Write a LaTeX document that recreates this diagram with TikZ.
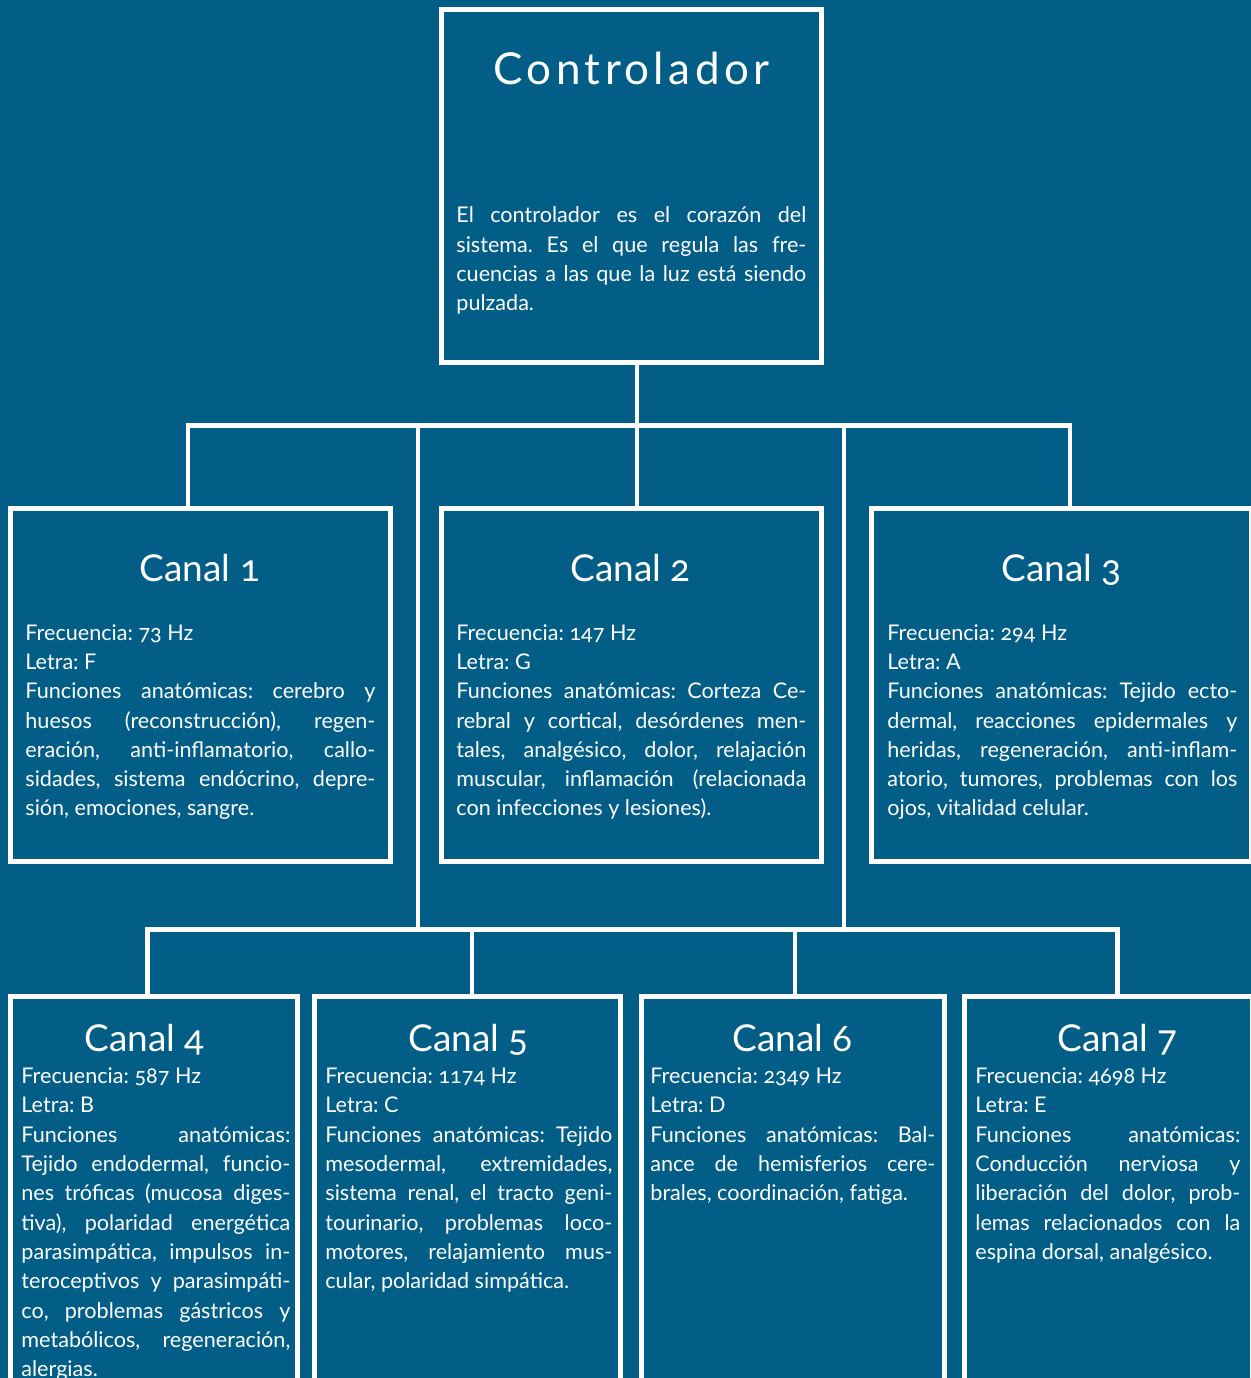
\documentclass[tikz,border=0pt]{standalone}
\usepackage{fontspec}
\setmainfont{Lato}[Numbers=OldStyle]
\newfontfamily\bigfont{Lato}[Numbers=OldStyle,LetterSpace=10]
\definecolor{bgblue}{RGB}{2,94,135}
\newlength{\colw}
\newcommand{\jl}[1]{\makebox[\colw][s]{#1}}
\frenchspacing

\tikzset{
  box/.style={draw=white, line width=2.5pt, fill=bgblue, inner sep=0pt},
  link/.style={draw=white, line width=2.2pt},
  ttl/.style={text=white, anchor=base, inner sep=0pt,
    font=\fontsize{18.5}{22}\selectfont},
  body/.style={text=white, align=left, anchor=north west, inner sep=0pt,
    font=\fontsize{10.8}{14.65}\selectfont,
    execute at begin node={\global\colw=#1\relax\rule{0pt}{8pt}}},
}

\begin{document}
\begin{tikzpicture}[x=0.5pt,y=-0.5pt]
  \useasboundingbox (0,0) rectangle (1251,1378);
  \fill[bgblue] (0,0) rectangle (1251,1378);
  % boxes
  \foreach \n/\x/\y/\w/\h in {
    ctrl/631/186/190/176.5,
    c1/200.25/684.75/190.25/176.25, c2/631/684.75/190/176.25,
    c3/1061.5/684.75/190/176.25,
    c4/153.75/1213.25/143.75/216.75, c5/467.25/1213.25/152.75/216.75,
    c6/793/1213.25/151.5/216.75, c7/1108.5/1213.25/144/216.75} {
    \node[box, minimum width=\w pt, minimum height=\h pt] (\n) at (\x,\y) {};
  }
  % titles
  \node[ttl, font=\bigfont\fontsize{22}{26}\selectfont] (t0) at (631.5,84.5) {Controlador};
  \foreach \n/\x/\y/\t in {
    t1/200/581.5/Canal 1, t2/630.5/581.5/Canal 2, t3/1061.5/581.5/Canal 3,
    t4/144.5/1051/Canal 4, t5/468.5/1051/Canal 5,
    t6/792.5/1051/Canal 6, t7/1117.5/1051/Canal 7} {
    \node[ttl] (\n) at (\x,\y) {\t};
  }
  % texts
  \node[body=175pt] (b0) at (456,206.5) {%
    \jl{El controlador es el corazón del}\\
    \jl{sistema. Es el que regula las fre-}\\
    \jl{cuencias a las que la luz está siendo}\\
    pulzada.};
  \node[body=175pt] (b1) at (25,624) {%
    Frecuencia: 73 Hz\\
    Letra: F\\
    \jl{Funciones anatómicas: cerebro y}\\
    \jl{huesos (reconstrucción), regen-}\\
    \jl{eración, anti-inflamatorio, callo-}\\
    \jl{sidades, sistema endócrino, depre-}\\
    sión, emociones, sangre.};
  \node[body=175pt] (b2) at (456,624) {%
    Frecuencia: 147 Hz\\
    Letra: G\\
    \jl{Funciones anatómicas: Corteza Ce-}\\
    \jl{rebral y cortical, desórdenes men-}\\
    \jl{tales, analgésico, dolor, relajación}\\
    \jl{muscular, inflamación (relacionada}\\
    con infecciones y lesiones).};
  \node[body=175pt] (b3) at (887,624) {%
    Frecuencia: 294 Hz\\
    Letra: A\\
    \jl{Funciones anatómicas: Tejido ecto-}\\
    \jl{dermal, reacciones epidermales y}\\
    \jl{heridas, regeneración, anti-inflam-}\\
    \jl{atorio, tumores, problemas con los}\\
    ojos, vitalidad celular.};
  \node[body=134.5pt] (b4) at (21,1067.5) {%
    Frecuencia: 587 Hz\\
    Letra: B\\
    \jl{Funciones anatómicas:}\\
    \jl{Tejido endodermal, funcio-}\\
    \jl{nes tróficas (mucosa diges-}\\
    \jl{tiva), polaridad energética}\\
    \jl{parasimpática, impulsos in-}\\
    \jl{teroceptivos y parasimpáti-}\\
    \jl{co, problemas gástricos y}\\
    \jl{metabólicos, regeneración,}\\
    alergias.};
  \node[body=143.5pt] (b5) at (325,1067.5) {%
    Frecuencia: 1174 Hz\\
    Letra: C\\
    \jl{Funciones anatómicas: Tejido}\\
    \jl{mesodermal, extremidades,}\\
    \jl{sistema renal, el tracto geni-}\\
    \jl{tourinario, problemas loco-}\\
    \jl{motores, relajamiento mus-}\\
    cular, polaridad simpática.};
  \node[body=142.5pt] (b6) at (650,1067.5) {%
    Frecuencia: 2349 Hz\\
    Letra: D\\
    \jl{Funciones anatómicas: Bal-}\\
    \jl{ance de hemisferios cere-}\\
    brales, coordinación, fatiga.};
  \node[body=132.5pt] (b7) at (975,1067.5) {%
    Frecuencia: 4698 Hz\\
    Letra: E\\
    \jl{Funciones anatómicas:}\\
    \jl{Conducción nerviosa y}\\
    \jl{liberación del dolor, prob-}\\
    \jl{lemas relacionados con la}\\
    espina dorsal, analgésico.};
  % connectors
  \coordinate (bus) at (637,425.5);
  \coordinate (j1) at (188,425.5);
  \coordinate (j3) at (1070,425.5);
  \coordinate (s1) at (418,425.5);
  \coordinate (s2) at (844,425.5);
  \coordinate (k1) at (147.5,929.5);
  \coordinate (k2) at (472,929.5);
  \coordinate (k3) at (795,929.5);
  \coordinate (k4) at (1117.5,929.5);
  \draw[link] (ctrl.south -| bus) -- (bus) -- (bus |- c2.north);
  \draw[link] (j1 |- c1.north) -- (j1) -- (j3) -- (j3 |- c3.north);
  \draw[link] (s1) -- (s1 |- k1);
  \draw[link] (s2) -- (s2 |- k1);
  \draw[link] (k1 |- c4.north) -- (k1) -- (k4) -- (k4 |- c7.north);
  \draw[link] (k2) -- (k2 |- c5.north);
  \draw[link] (k3) -- (k3 |- c6.north);
\end{tikzpicture}
\end{document}
